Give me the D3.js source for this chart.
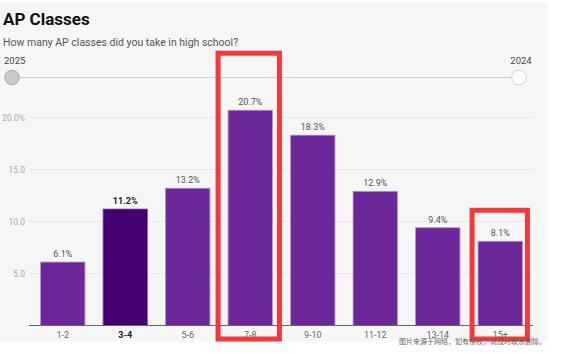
<!DOCTYPE html>
<html>
<head>
<meta charset="utf-8">
<script src="https://cdn.jsdelivr.net/npm/d3@7"></script>
<style>
  body { margin: 0; background: #fff; }
  svg { display: block; font-family: Roboto, "Noto Sans", sans-serif; }
</style>
</head>
<body>
<svg id="chart" width="564" height="354"></svg>
<script>
const categories = ["1-2", "3-4", "5-6", "7-8", "9-10", "11-12", "13-14", "15+"];
const values = [6.1, 11.2, 13.2, 20.7, 18.3, 12.9, 9.4, 8.1];
const highlighted = "3-4";
const yTicks = [5, 10, 15, 20];
const yTickLabels = ["5.0", "10.0", "15.0", "20.0%"];
const sliderYears = ["2025", "2024"];
const boxed = ["7-8", "15+"];

const svg = d3.select("#chart");

// panel background
svg.append("rect")
    .attr("x", 0).attr("y", 3)
    .attr("width", 548).attr("height", 338)
    .attr("fill", "#f6f6f6");

svg.append("text")
    .attr("x", 3).attr("y", 25)
    .attr("font-size", 17).attr("font-weight", "bold")
    .attr("fill", "#111")
    .text("AP Classes");

svg.append("text")
    .attr("x", 3).attr("y", 46)
    .attr("font-size", 10.5).attr("fill", "#555")
    .text("How many AP classes did you take in high school?");

// year slider
const slider = d3.scalePoint().domain(sliderYears).range([12, 519]);
svg.append("line")
    .attr("x1", slider("2025")).attr("x2", slider("2024"))
    .attr("y1", 77.5).attr("y2", 77.5)
    .attr("stroke", "#ccc").attr("stroke-width", 1);

svg.selectAll("text.year")
    .data(sliderYears)
    .enter().append("text")
    .attr("class", "year")
    .attr("x", d => d === "2025" ? 4 : slider(d) + 2)
    .attr("y", 64)
    .attr("text-anchor", d => d === "2025" ? "start" : "middle")
    .attr("font-size", 9.5).attr("fill", "#444")
    .text(d => d);

svg.selectAll("circle.knob")
    .data(sliderYears)
    .enter().append("circle")
    .attr("class", "knob")
    .attr("cx", d => slider(d)).attr("cy", 77.5)
    .attr("r", 7.3)
    .attr("fill", d => d === "2025" ? "#cacaca" : "#fff")
    .attr("stroke", d => d === "2025" ? "#a8a8a8" : "#d0d0d0")
    .attr("stroke-width", 1);

// bars
const x = d3.scaleBand().domain(categories).range([31.5, 531.5]).paddingInner(0.29).paddingOuter(0.145);
const y = d3.scaleLinear().domain([0, 20]).range([325.5, 117.5]);

svg.selectAll("line.grid")
    .data(yTicks)
    .enter().append("line")
    .attr("class", "grid")
    .attr("x1", 29).attr("x2", 533)
    .attr("y1", d => y(d)).attr("y2", d => y(d))
    .attr("stroke", "#e8e8e8").attr("stroke-width", 1);

svg.selectAll("text.ytick")
    .data(yTicks)
    .enter().append("text")
    .attr("class", "ytick")
    .attr("x", 25).attr("y", d => y(d) + 3)
    .attr("text-anchor", "end")
    .attr("font-size", 8.5).attr("fill", "#aaa")
    .text((d, i) => yTickLabels[i]);

svg.selectAll("rect.bar")
    .data(values)
    .enter().append("rect")
    .attr("class", "bar")
    .attr("x", (d, i) => x(categories[i]))
    .attr("y", d => y(d))
    .attr("width", x.bandwidth())
    .attr("height", d => y(0) - y(d))
    .attr("fill", (d, i) => categories[i] === highlighted ? "#43006e" : "#6c2799")
    .attr("stroke", (d, i) => categories[i] === highlighted ? "#8a5aa8" : "#b48fd0")
    .attr("stroke-width", 0.8);

svg.selectAll("text.val")
    .data(values)
    .enter().append("text")
    .attr("class", "val")
    .attr("x", (d, i) => x(categories[i]) + x.bandwidth() / 2)
    .attr("y", d => y(d) - 5)
    .attr("text-anchor", "middle")
    .attr("font-size", 9)
    .attr("font-weight", (d, i) => categories[i] === highlighted ? "bold" : "normal")
    .attr("fill", (d, i) => categories[i] === highlighted ? "#222" : "#555")
    .text(d => d.toFixed(1) + "%");

// x axis
const xAxis = svg.append("g")
    .attr("transform", `translate(0,${y(0)})`)
    .call(d3.axisBottom(x).tickSize(0).tickPadding(6));
xAxis.select(".domain").attr("stroke", "#666").attr("stroke-width", 1.2).attr("d", "M29,0H533");
xAxis.selectAll("text")
    .attr("font-family", "Roboto, sans-serif")
    .attr("font-size", 9)
    .attr("fill", d => d === highlighted ? "#222" : "#666")
    .attr("font-weight", d => d === highlighted ? "bold" : "normal");

// red annotation boxes
svg.selectAll("rect.box")
    .data(boxed)
    .enter().append("rect")
    .attr("class", "box")
    .attr("x", d => x(d) - (d === "7-8" ? 10 : 6))
    .attr("y", d => y(values[categories.indexOf(d)]) - (d === "7-8" ? 57 : 31))
    .attr("width", d => x.bandwidth() + (d === "7-8" ? 17 : 11))
    .attr("height", d => 339 - y(values[categories.indexOf(d)]) + (d === "7-8" ? 57 : 31))
    .attr("fill", "none")
    .attr("stroke", "#f23a3a")
    .attr("stroke-width", 5);

svg.append("text")
    .attr("x", 546).attr("y", 344)
    .attr("text-anchor", "end")
    .attr("font-size", 7).attr("fill", "#666")
    .attr("font-family", "'Noto Sans CJK SC', sans-serif")
    .text("图片来源于网络，如有侵权，请及时联系删除。");
</script>
</body>
</html>
